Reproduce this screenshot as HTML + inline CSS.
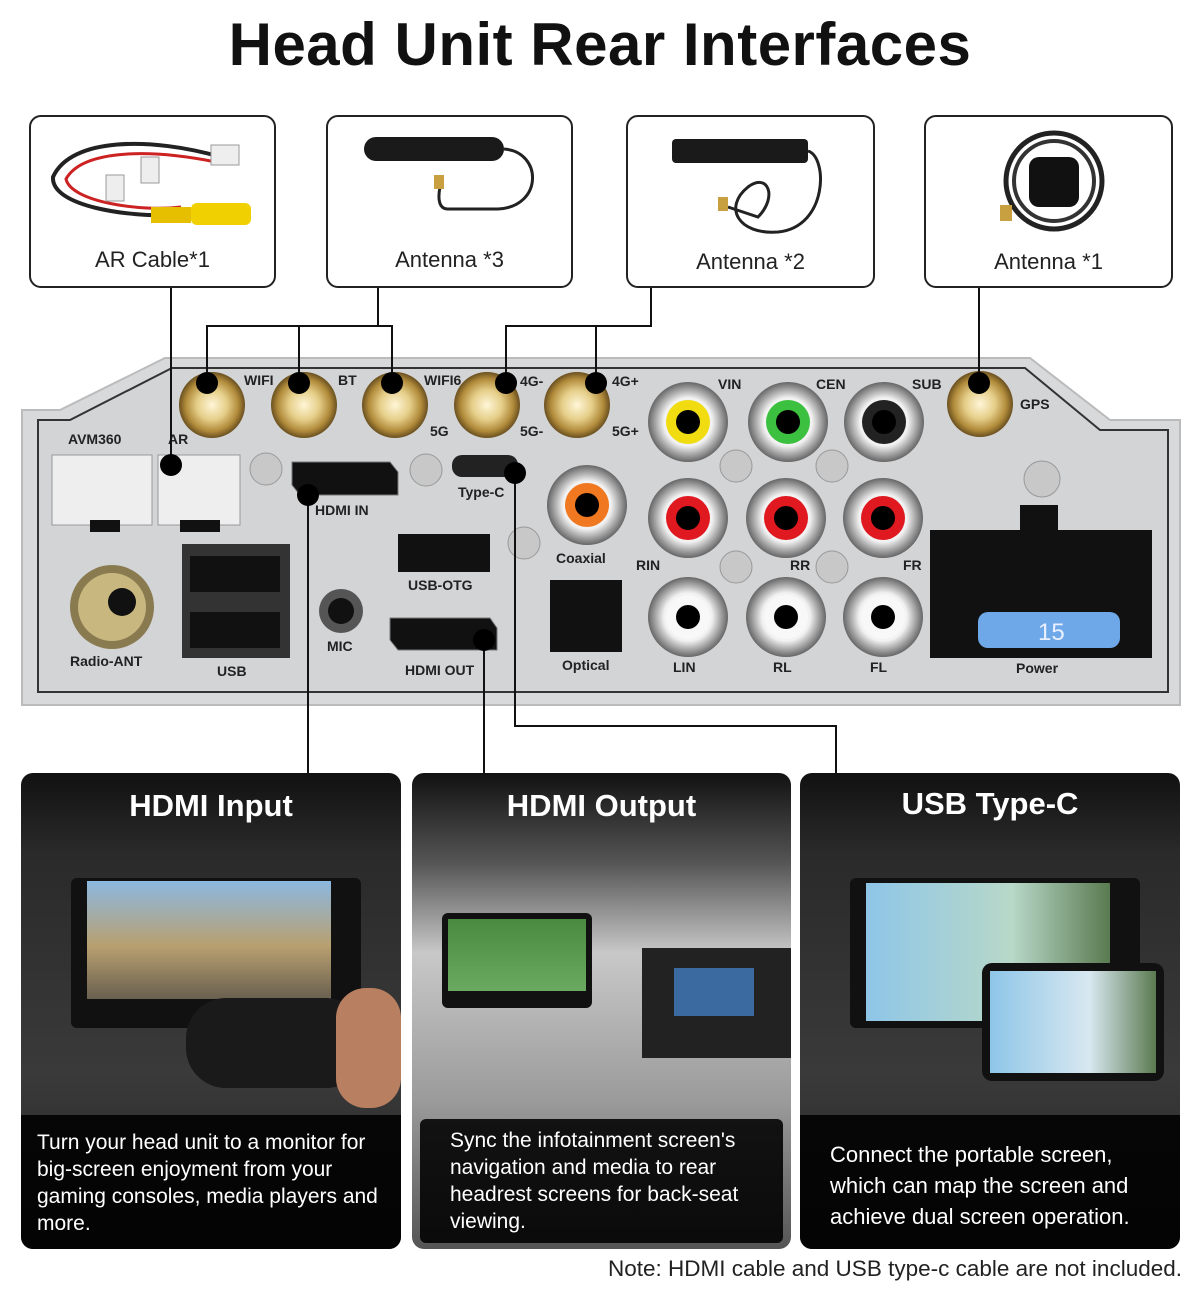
<!DOCTYPE html>
<html><head><meta charset="utf-8"><style>
body{margin:0;background:#fff;width:1200px;height:1303px;position:relative;overflow:hidden;font-family:"Liberation Sans",sans-serif}
.t{position:absolute;left:0;width:1200px;top:10px;text-align:center;font-size:60px;font-weight:bold;color:#111;letter-spacing:0.5px}
.box{position:absolute;border:2px solid #222;border-radius:12px;background:#fff;box-sizing:border-box}
.box span{position:absolute;left:0;right:0;text-align:center;font-size:22px;color:#222}
.card{position:absolute;top:773px;height:476px;border-radius:12px;overflow:hidden;background:#1c1c1c}
.card h2{position:absolute;top:0;left:0;right:0;margin:0;text-align:center;color:#fff;font-size:31px;font-weight:bold;line-height:66px;z-index:3}
.card .cap{position:absolute;left:0;right:0;bottom:0;height:134px;background:rgba(0,0,0,.88);color:#fff;font-size:21px;line-height:27px;z-index:3;box-sizing:border-box}
.note{position:absolute;right:18px;top:1256px;font-size:22.5px;color:#222}
</style></head><body>
<div class="t">Head Unit Rear Interfaces</div>

<div class="box" style="left:29px;top:115px;width:247px;height:173px"><span style="top:130px">AR Cable*1</span>
<svg width="247" height="120" style="position:absolute;left:0;top:0"><path d="M190 40 C120 20 40 20 22 60 C20 90 100 100 140 98" stroke="#222" stroke-width="4" fill="none"/><path d="M185 45 C110 30 50 35 35 62 C40 85 110 95 150 90" stroke="#c22" stroke-width="3" fill="none"/><rect x="120" y="90" width="40" height="16" fill="#e6c000"/><rect x="160" y="86" width="60" height="22" rx="6" fill="#f0d000"/><rect x="75" y="58" width="18" height="26" fill="#eee" stroke="#999"/><rect x="110" y="40" width="18" height="26" fill="#eee" stroke="#999"/><rect x="180" y="28" width="28" height="20" fill="#eee" stroke="#999"/></svg></div>

<div class="box" style="left:326px;top:115px;width:247px;height:173px"><span style="top:130px">Antenna *3</span>
<svg width="247" height="120" style="position:absolute;left:0;top:0"><rect x="36" y="20" width="140" height="24" rx="12" fill="#1a1a1a"/><path d="M176 32 C215 35 215 90 170 92 L120 92 C110 92 110 80 112 70" stroke="#222" stroke-width="3" fill="none"/><rect x="106" y="58" width="10" height="14" fill="#c9a040"/></svg></div>

<div class="box" style="left:626px;top:115px;width:249px;height:173px"><span style="top:132px">Antenna *2</span>
<svg width="249" height="120" style="position:absolute;left:0;top:0"><rect x="44" y="22" width="136" height="24" rx="4" fill="#1a1a1a"/><path d="M180 34 C200 40 200 110 150 115 C110 118 95 90 120 70 C140 55 150 80 130 100 L100 90" stroke="#222" stroke-width="3" fill="none"/><rect x="90" y="80" width="10" height="14" fill="#c9a040"/></svg></div>

<div class="box" style="left:924px;top:115px;width:249px;height:173px"><span style="top:132px">Antenna *1</span>
<svg width="249" height="120" style="position:absolute;left:0;top:0"><circle cx="128" cy="64" r="48" fill="none" stroke="#222" stroke-width="5"/><circle cx="128" cy="64" r="40" fill="none" stroke="#333" stroke-width="4"/><rect x="103" y="40" width="50" height="50" rx="10" fill="#111"/><rect x="74" y="88" width="12" height="16" fill="#c9a040"/></svg></div>

<svg width="1200" height="1303" style="position:absolute;left:0;top:0">
<defs><radialGradient id="g" cx="50%" cy="50%" r="50%"><stop offset="0" stop-color="#fff6d8"/><stop offset=".45" stop-color="#e6cf8a"/><stop offset=".8" stop-color="#b08a3a"/><stop offset="1" stop-color="#6a5020"/></radialGradient>
<radialGradient id="s" cx="50%" cy="50%" r="50%"><stop offset=".6" stop-color="#f2f2f2"/><stop offset=".85" stop-color="#9a9a9a"/><stop offset="1" stop-color="#666"/></radialGradient></defs>
<polygon points="22,410 60,410 165,358 1030,358 1110,420 1180,420 1180,705 22,705" fill="#d8d9db" stroke="#bbb" stroke-width="2"/>
<polygon points="38,420 70,420 172,368 1025,368 1100,430 1168,430 1168,692 38,692" fill="#d3d4d6" stroke="#333" stroke-width="2"/>
<g font-size="14" font-weight="bold" fill="#222">
<text x="244" y="385">WIFI</text><text x="338" y="385">BT</text><text x="424" y="385">WIFI6</text><text x="430" y="436">5G</text><text x="520" y="386">4G-</text><text x="520" y="436">5G-</text><text x="612" y="386">4G+</text><text x="612" y="436">5G+</text>
<text x="68" y="444">AVM360</text><text x="168" y="444">AR</text><text x="718" y="389">VIN</text><text x="816" y="389">CEN</text><text x="912" y="389">SUB</text><text x="1020" y="409">GPS</text>
<text x="315" y="515">HDMI IN</text><text x="458" y="497">Type-C</text><text x="408" y="590">USB-OTG</text><text x="556" y="563">Coaxial</text><text x="327" y="651">MIC</text><text x="405" y="675">HDMI OUT</text><text x="562" y="670">Optical</text>
<text x="70" y="666">Radio-ANT</text><text x="217" y="676">USB</text><text x="636" y="570">RIN</text><text x="790" y="570">RR</text><text x="903" y="570">FR</text><text x="673" y="672">LIN</text><text x="773" y="672">RL</text><text x="870" y="672">FL</text><text x="1016" y="673">Power</text></g>
<g><circle cx="212" cy="405" r="33" fill="url(#g)"/><circle cx="304" cy="405" r="33" fill="url(#g)"/><circle cx="395" cy="405" r="33" fill="url(#g)"/><circle cx="487" cy="405" r="33" fill="url(#g)"/><circle cx="577" cy="405" r="33" fill="url(#g)"/><circle cx="980" cy="404" r="33" fill="url(#g)"/></g>
<g><circle cx="688" cy="422" r="40" fill="url(#s)"/><circle cx="688" cy="422" r="22" fill="#f0dc10"/><circle cx="688" cy="422" r="12" fill="#000"/>
<circle cx="788" cy="422" r="40" fill="url(#s)"/><circle cx="788" cy="422" r="22" fill="#3cc040"/><circle cx="788" cy="422" r="12" fill="#000"/>
<circle cx="884" cy="422" r="40" fill="url(#s)"/><circle cx="884" cy="422" r="22" fill="#222"/><circle cx="884" cy="422" r="12" fill="#000"/>
<circle cx="587" cy="505" r="40" fill="url(#s)"/><circle cx="587" cy="505" r="22" fill="#f07820"/><circle cx="587" cy="505" r="12" fill="#000"/>
<circle cx="688" cy="518" r="40" fill="url(#s)"/><circle cx="688" cy="518" r="22" fill="#e01820"/><circle cx="688" cy="518" r="12" fill="#000"/>
<circle cx="786" cy="518" r="40" fill="url(#s)"/><circle cx="786" cy="518" r="22" fill="#e01820"/><circle cx="786" cy="518" r="12" fill="#000"/>
<circle cx="883" cy="518" r="40" fill="url(#s)"/><circle cx="883" cy="518" r="22" fill="#e01820"/><circle cx="883" cy="518" r="12" fill="#000"/>
<circle cx="688" cy="617" r="40" fill="url(#s)"/><circle cx="688" cy="617" r="22" fill="#f8f8f8"/><circle cx="688" cy="617" r="12" fill="#000"/>
<circle cx="786" cy="617" r="40" fill="url(#s)"/><circle cx="786" cy="617" r="22" fill="#f8f8f8"/><circle cx="786" cy="617" r="12" fill="#000"/>
<circle cx="883" cy="617" r="40" fill="url(#s)"/><circle cx="883" cy="617" r="22" fill="#f8f8f8"/><circle cx="883" cy="617" r="12" fill="#000"/></g>
<g fill="#c8c8c8" stroke="#999"><circle cx="266" cy="469" r="16"/><circle cx="426" cy="470" r="16"/><circle cx="524" cy="543" r="16"/><circle cx="736" cy="466" r="16"/><circle cx="832" cy="466" r="16"/><circle cx="736" cy="567" r="16"/><circle cx="832" cy="567" r="16"/><circle cx="1042" cy="479" r="18"/></g>
<rect x="52" y="455" width="100" height="70" fill="#eee" stroke="#999"/><rect x="158" y="455" width="82" height="70" fill="#eee" stroke="#999"/><rect x="90" y="520" width="30" height="12" fill="#111"/><rect x="180" y="520" width="40" height="12" fill="#111"/>
<circle cx="112" cy="607" r="42" fill="#8a7a50"/><circle cx="112" cy="607" r="34" fill="#c8b880"/><circle cx="122" cy="602" r="14" fill="#111"/>
<rect x="182" y="544" width="108" height="114" fill="#333"/><rect x="190" y="556" width="90" height="36" fill="#111"/><rect x="190" y="612" width="90" height="36" fill="#111"/>
<path d="M292 462 L390 462 L398 472 L398 495 L300 495 L292 485 Z" fill="#111" stroke="#777"/>
<rect x="452" y="455" width="66" height="22" rx="10" fill="#222"/>
<rect x="398" y="534" width="92" height="38" fill="#111"/><circle cx="341" cy="611" r="22" fill="#555"/><circle cx="341" cy="611" r="13" fill="#111"/>
<path d="M390 618 L490 618 L497 628 L497 650 L398 650 L390 640 Z" fill="#111" stroke="#777"/>
<rect x="550" y="580" width="72" height="72" fill="#111"/>
<rect x="1020" y="505" width="38" height="30" fill="#111"/><rect x="930" y="530" width="222" height="128" fill="#111"/><rect x="978" y="612" width="142" height="36" rx="10" fill="#6fa8e8"/><text x="1038" y="640" font-size="24" fill="#e8f0ff">15</text>
<g stroke="#111" stroke-width="2" fill="none">
<path d="M171 288 V465"/><path d="M378 288 V326 M207 383 V326 H392 V383 M299 326 V383"/><path d="M651 288 V326 H506 V383 M596 326 V383"/><path d="M979 288 V383"/><path d="M308 495 V773"/><path d="M484 638 V773"/><path d="M515 473 V726 H836 V773"/></g>
<g fill="#000"><circle cx="171" cy="465" r="11"/><circle cx="207" cy="383" r="11"/><circle cx="299" cy="383" r="11"/><circle cx="392" cy="383" r="11"/><circle cx="506" cy="383" r="11"/><circle cx="596" cy="383" r="11"/><circle cx="979" cy="383" r="11"/><circle cx="308" cy="495" r="11"/><circle cx="484" cy="640" r="11"/><circle cx="515" cy="473" r="11"/></g>
</svg>

<div class="card" style="left:21px;width:380px;background:linear-gradient(#111 0,#2a2a2a 80px,#3a3a3a 300px,#222 476px)">
<h2>HDMI Input</h2>
<div style="position:absolute;left:50px;top:105px;width:290px;height:150px;background:#111;border-radius:6px"></div>
<div style="position:absolute;left:66px;top:108px;width:244px;height:118px;background:linear-gradient(#8cb8e0,#b8a070 55%,#6a6050)"></div>
<div style="position:absolute;left:165px;top:225px;width:180px;height:90px;background:#1a1a1a;border-radius:40px"></div>
<div style="position:absolute;left:315px;top:215px;width:65px;height:120px;background:#b88060;border-radius:30px"></div>
<div class="cap" style="padding:14px 0 0 16px">Turn your head unit to a monitor for big-screen enjoyment from your gaming consoles, media players and more.</div></div>

<div class="card" style="left:412px;width:379px;background:linear-gradient(#111 0,#555 90px,#c8c8c8 180px,#9a9a9a 330px,#555 476px)">
<h2>HDMI Output</h2>
<div style="position:absolute;left:30px;top:140px;width:150px;height:95px;background:#111;border-radius:6px"></div>
<div style="position:absolute;left:36px;top:146px;width:138px;height:72px;background:linear-gradient(#4a8a40,#6aaa60)"></div>
<div style="position:absolute;left:230px;top:175px;width:149px;height:110px;background:#222"></div>
<div style="position:absolute;left:262px;top:195px;width:80px;height:48px;background:#3a6aa0"></div>
<div class="cap" style="left:8px;right:8px;bottom:6px;height:124px;padding:8px 20px 0 30px;border-radius:6px">Sync the infotainment screen's navigation and media to rear headrest screens for back-seat viewing.</div></div>

<div class="card" style="left:800px;width:380px;background:linear-gradient(#111 0,#2a2a2a 80px,#3a3a3a 300px,#222 476px)">
<h2 style="line-height:62px">USB Type-C</h2>
<div style="position:absolute;left:50px;top:105px;width:290px;height:150px;background:#111;border-radius:6px"></div>
<div style="position:absolute;left:66px;top:110px;width:244px;height:138px;background:linear-gradient(90deg,#8ec6e8,#b8d8c8 60%,#5a7a50)"></div>
<div style="position:absolute;left:182px;top:190px;width:182px;height:118px;background:#111;border-radius:10px"></div>
<div style="position:absolute;left:190px;top:198px;width:166px;height:102px;background:linear-gradient(90deg,#8ec6e8,#d8e8f0 60%,#5a7a50)"></div>
<div class="cap" style="padding:24px 40px 0 30px;line-height:31px;font-size:22px">Connect the portable screen, which can map the screen and achieve dual screen operation.</div></div>

<div class="note">Note: HDMI cable and USB type-c cable are not included.</div>
</body></html>
